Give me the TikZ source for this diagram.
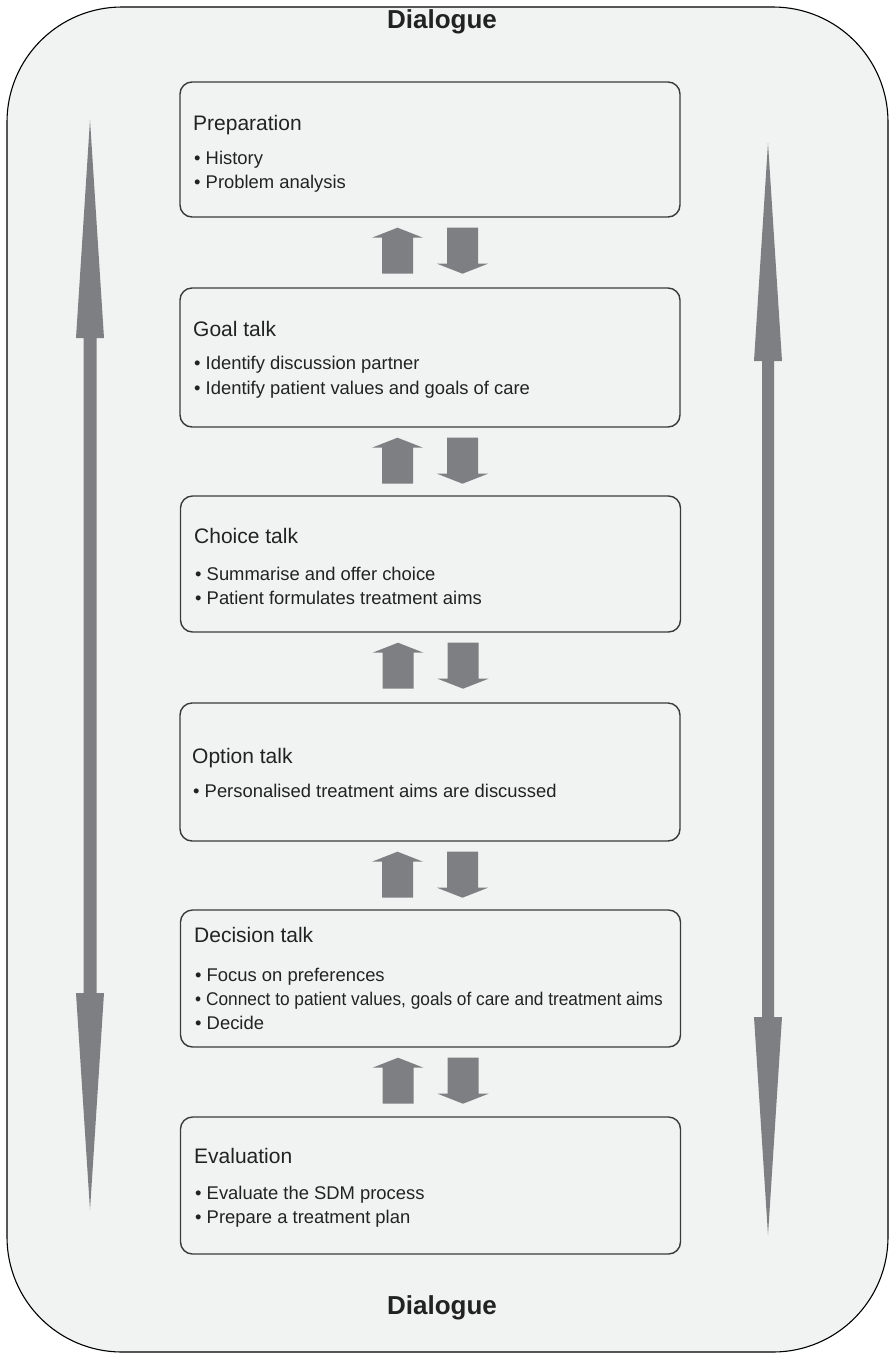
\documentclass[tikz,border=0pt]{standalone}
\usepackage{fontspec}
\setmainfont{Liberation Sans}
\usetikzlibrary{calc}
\definecolor{panel}{HTML}{F1F3F2}
\definecolor{arrowgray}{HTML}{7E7F83}
\definecolor{boxline}{HTML}{3A3A3A}
\definecolor{ink}{HTML}{222222}
\begin{document}
\begin{tikzpicture}[x=1pt,y=-1pt,
  frame/.style={draw=black, line width=1.1pt, fill=panel, rounded corners=115pt},
  phase/.style={draw=boxline, line width=1.4pt, fill=panel, rounded corners=12pt,
                inner sep=0pt, minimum width=500pt},
  heading/.style={anchor=base west, inner sep=0pt, text=ink, font=\fontsize{21}{25}\selectfont},
  item/.style={anchor=base west, inner sep=0pt, text=ink, font=\fontsize{18.4}{24}\selectfont},
  dialogue/.style={anchor=base, inner sep=0pt, text=ink, font=\fontsize{26}{30}\selectfont\bfseries},
  updown/.pic={
    \fill[arrowgray] (-32.5,0) -- (-7,10) -- (-17,10) -- (-17,46) -- (-48,46)
                     -- (-48,10) -- (-58,10) -- cycle;
    \fill[arrowgray] (17,0) -- (48,0) -- (48,36) -- (58,36) -- (32.5,46)
                     -- (7,36) -- (17,36) -- cycle;
  }]
\useasboundingbox (0,0) rectangle (889,1353);

% outer dialogue frame
\draw[frame] (7,7) rectangle (888,1352);
\node[dialogue] (dtop) at (442,28.5) {Dialogue};
\node[dialogue] (dbot) at (442,1314) {Dialogue};

% long double-headed arrows along both sides
\fill[arrowgray] (90,120) -- (104,338) -- (96.5,338) -- (96.5,993) -- (104,993)
  -- (90,1210) -- (76,993) -- (83.5,993) -- (83.5,338) -- (76,338) -- cycle;
\fill[arrowgray] (768,143) -- (782,361) -- (774,361) -- (774,1017) -- (782,1017)
  -- (768,1235) -- (754,1017) -- (762,1017) -- (762,361) -- (754,361) -- cycle;

% phase boxes
\node[phase, minimum height=135pt] (prep)     at (430,149.5)  {};
\node[phase, minimum height=139pt] (goal)     at (430,357.5)  {};
\node[phase, minimum height=136pt] (choice)   at (430.5,564)  {};
\node[phase, minimum height=138pt] (option)   at (430,772)    {};
\node[phase, minimum height=137pt] (decision) at (430.5,978.5){};
\node[phase, minimum height=137pt] (eval)     at (430.5,1185.5){};

% up/down arrows between consecutive phases
\foreach \b in {prep,goal,choice,option,decision}
  \pic at ($(\b.south)+(0,10)$) {updown};

% texts
\node[heading] (t1) at (193,130) {Preparation};
\node[item] (t1a) at (194,164.5) {• History};
\node[item] (t1b) at (194,188) {• Problem analysis};

\node[heading] (t2) at (193,336.5) {Goal talk};
\node[item] (t2a) at (194,369.5) {• Identify discussion partner};
\node[item] (t2b) at (194,394.5) {• Identify patient values and goals of care};

\node[heading] (t3) at (194,543.5) {Choice talk};
\node[item] (t3a) at (195,580.5) {• Summarise and offer choice};
\node[item] (t3b) at (195,604.5) {• Patient formulates treatment aims};

\node[heading] (t4) at (192,763) {Option talk};
\node[item] (t4a) at (193,797) {• Personalised treatment aims are discussed};

\node[heading] (t5) at (194,942.5) {Decision talk};
\node[item] (t5a) at (195,981.5) {• Focus on preferences};
\node[item] (t5b) at (195,1005.5) {\scalebox{0.94}[1]{• Connect to patient values, goals of care and treatment aims}};
\node[item] (t5c) at (195,1029.5) {• Decide};

\node[heading] (t6) at (194,1163.5) {Evaluation};
\node[item] (t6a) at (195,1199.5) {• Evaluate the SDM process};
\node[item] (t6b) at (195,1223.5) {• Prepare a treatment plan};
\end{tikzpicture}
\end{document}
